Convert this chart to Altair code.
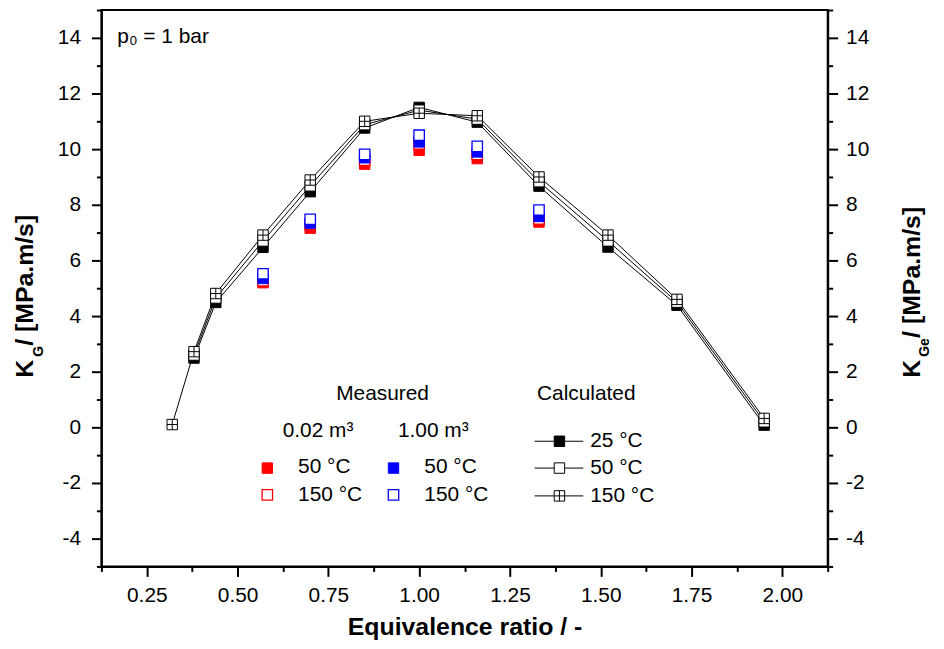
import altair as alt
import pandas as pd

FONT = "Liberation Sans"

# ---------------- data ----------------
phi_all = [0.32, 0.38, 0.44, 0.57, 0.70, 0.85, 1.00, 1.16, 1.33, 1.52, 1.71, 1.95]
phi_calc = phi_all[1:]
calc_25 = [2.49, 4.49, 6.47, 8.47, 10.76, 11.50, 10.97, 8.67, 6.48, 4.39, 0.08]
calc_50 = [2.60, 4.65, 6.70, 8.68, 10.88, 11.40, 11.08, 8.83, 6.70, 4.50, 0.20]
calc_150 = [0.10, 2.72, 4.81, 6.91, 8.89, 11.00, 11.29, 11.20, 9.00, 6.91, 4.60, 0.32]

phi_meas = [0.57, 0.70, 0.85, 1.00, 1.16, 1.33]
meas_002_50 = [5.20, 7.16, 9.46, 9.96, 9.66, 7.38]
meas_002_150 = [5.27, 7.29, 9.60, 10.19, 9.81, 7.49]
meas_100_50 = [5.35, 7.34, 9.69, 10.26, 9.90, 7.58]
meas_100_150 = [5.52, 7.48, 9.81, 10.50, 10.10, 7.81]

x_ticks = [0.125 * k for k in range(1, 18)]
y_ticks = list(range(-5, 16))

calc_labels = ["25 °C", "50 °C", "150 °C"]
meas_temp_labels = ["50 °C", "150 °C"]
meas_vol_labels = ["0.02 m³", "1.00 m³"]

df_calc = pd.concat([
    pd.DataFrame({"phi": phi_calc, "K": calc_25, "series": "25"}),
    pd.DataFrame({"phi": phi_calc, "K": calc_50, "series": "50"}),
    pd.DataFrame({"phi": phi_all, "K": calc_150, "series": "150"}),
])
df_m1 = pd.DataFrame({"phi": phi_meas, "K": meas_002_50})
df_m2 = pd.DataFrame({"phi": phi_meas, "K": meas_002_150})
df_m3 = pd.DataFrame({"phi": phi_meas, "K": meas_100_50})
df_m4 = pd.DataFrame({"phi": phi_meas, "K": meas_100_150})

CROSS = "M-1,-1L1,-1L1,1L-1,1Z M0,-1L0,1 M-1,0L1,0"
SIZE = 110

xscale = alt.Scale(domain=[0.125, 2.125], nice=False, zero=False)
yscale = alt.Scale(domain=[-5, 15], nice=False, zero=False)

x_major = "round(datum.value*8) % 2 == 0"
y_major = "round(datum.value) % 2 == 0"

xaxis = alt.Axis(
    orient="bottom",
    values=x_ticks,
    labelExpr=f"{x_major} ? format(datum.value, '.2f') : ''",
    tickSize={"condition": {"test": x_major, "value": 10}, "value": 5},
    labelPadding=8,
    title="Equivalence ratio / -",
    titleFontSize=25,
    titleFontWeight="bold",
    titlePadding=10,
)
yaxis_left = alt.Axis(
    orient="left",
    values=y_ticks,
    labelExpr=f"{y_major} ? toString(datum.value) : ''",
    tickSize={"condition": {"test": y_major, "value": 10}, "value": 5},
    labelPadding=11,
    title=None,
)
yaxis_right = alt.Axis(
    orient="right",
    values=y_ticks,
    labelExpr=f"{y_major} ? toString(datum.value) : ''",
    tickSize={"condition": {"test": y_major, "value": 10}, "value": 5},
    labelPadding=8,
    title=None,
)


def X(axis=None):
    return alt.X("phi:Q", scale=xscale, axis=axis)


def Y(axis=None):
    return alt.Y("K:Q", scale=yscale, axis=axis)


lines = alt.Chart(df_calc).mark_line(color="black", strokeWidth=1).encode(
    x=X(xaxis), y=Y(yaxis_left), detail="series:N"
)


def pts(df, shape, fill, stroke, sw=1.0, yaxis=None):
    return alt.Chart(df).mark_point(
        shape=shape, filled=True, fill=fill, stroke=stroke, strokeWidth=sw,
        size=SIZE, opacity=1
    ).encode(x=X(), y=Y(yaxis))


c25 = pts(df_calc[df_calc.series == "25"], "square", "black", "black")
c50 = pts(df_calc[df_calc.series == "50"], "square", "white", "black")
c150 = pts(df_calc[df_calc.series == "150"], CROSS, "white", "black", yaxis=yaxis_right)
m1 = pts(df_m1, "square", "#ff0000", "#ff0000")
m2 = pts(df_m2, "square", "white", "#ff0000", 1.3)
m3 = pts(df_m3, "square", "#0000ff", "#0000ff")
m4 = pts(df_m4, "square", "white", "#0000ff", 1.3)

dummy = pd.DataFrame({"k": [0]})


def txt(s, x, y, size=21, align="left", weight="normal", angle=0, baseline="middle"):
    return alt.Chart(dummy).mark_text(
        text=s, align=align, baseline=baseline, fontSize=size, fontWeight=weight,
        font=FONT, color="black", angle=angle
    ).encode(x=alt.value(x), y=alt.value(y))


def sym(x, y, shape, fill, stroke, sw=1.0):
    return alt.Chart(dummy).mark_point(
        shape=shape, filled=True, fill=fill, stroke=stroke, strokeWidth=sw,
        size=SIZE, opacity=1
    ).encode(x=alt.value(x), y=alt.value(y))


def seg(x1, x2, y):
    return alt.Chart(dummy).mark_rule(color="black", strokeWidth=1).encode(
        x=alt.value(x1), x2=alt.value(x2), y=alt.value(y)
    )


legend = [
    txt("p₀ = 1 bar", 16, 27),
    txt("Measured", 283, 386, align="center"),
    txt("Calculated", 488, 386, align="center"),
    txt(meas_vol_labels[0], 218, 424, align="center"),
    txt(meas_vol_labels[1], 334, 424, align="center"),
    sym(167, 461, "square", "#ff0000", "#ff0000"),
    sym(167, 488, "square", "white", "#ff0000", 1.3),
    sym(294, 461, "square", "#0000ff", "#0000ff"),
    sym(294, 488, "square", "white", "#0000ff", 1.3),
    txt(meas_temp_labels[0], 198, 460),
    txt(meas_temp_labels[1], 198, 488),
    txt(meas_temp_labels[0], 325, 460),
    txt(meas_temp_labels[1], 325, 488),
    seg(436, 485, 434), seg(436, 485, 461), seg(436, 485, 489),
    sym(461, 434, "square", "black", "black"),
    sym(461, 461, "square", "white", "black"),
    sym(461, 489, CROSS, "white", "black"),
    txt(calc_labels[0], 492, 434),
    txt(calc_labels[1], 492, 461),
    txt(calc_labels[2], 492, 489),
    # left axis title  K_G / [MPa.m/s]
    txt("K", -69, 370, size=25, weight="bold", angle=270, baseline="alphabetic"),
    txt("G", -59, 349, size=14, weight="bold", angle=270, baseline="alphabetic"),
    txt(" / [MPa.m/s]", -69, 338, size=25, weight="bold", angle=270, baseline="alphabetic"),
    # right axis title  K_Ge / [MPa.m/s]
    txt("K", 824, 370, size=25, weight="bold", angle=270, baseline="alphabetic"),
    txt("Ge", 833, 349, size=14, weight="bold", angle=270, baseline="alphabetic"),
    txt(" / [MPa.m/s]", 824, 330, size=25, weight="bold", angle=270, baseline="alphabetic"),
]

chart = alt.layer(
    lines, c25, c50, c150, m1, m2, m3, m4, *legend
).resolve_axis(x="independent", y="independent").properties(
    width=731, height=560,
    autosize=alt.AutoSizeParams(type="none"),
    padding={"left": 94, "top": 0, "right": 109, "bottom": 73},
).configure_view(
    stroke="black", strokeWidth=2
).configure_axis(
    grid=False, domainColor="black", domainWidth=2, tickColor="black", tickWidth=2,
    labelFont=FONT, labelFontSize=21, labelColor="black",
    titleFont=FONT, titleColor="black",
)

chart.save("out.html", embed_options={"renderer": "svg", "actions": False})
